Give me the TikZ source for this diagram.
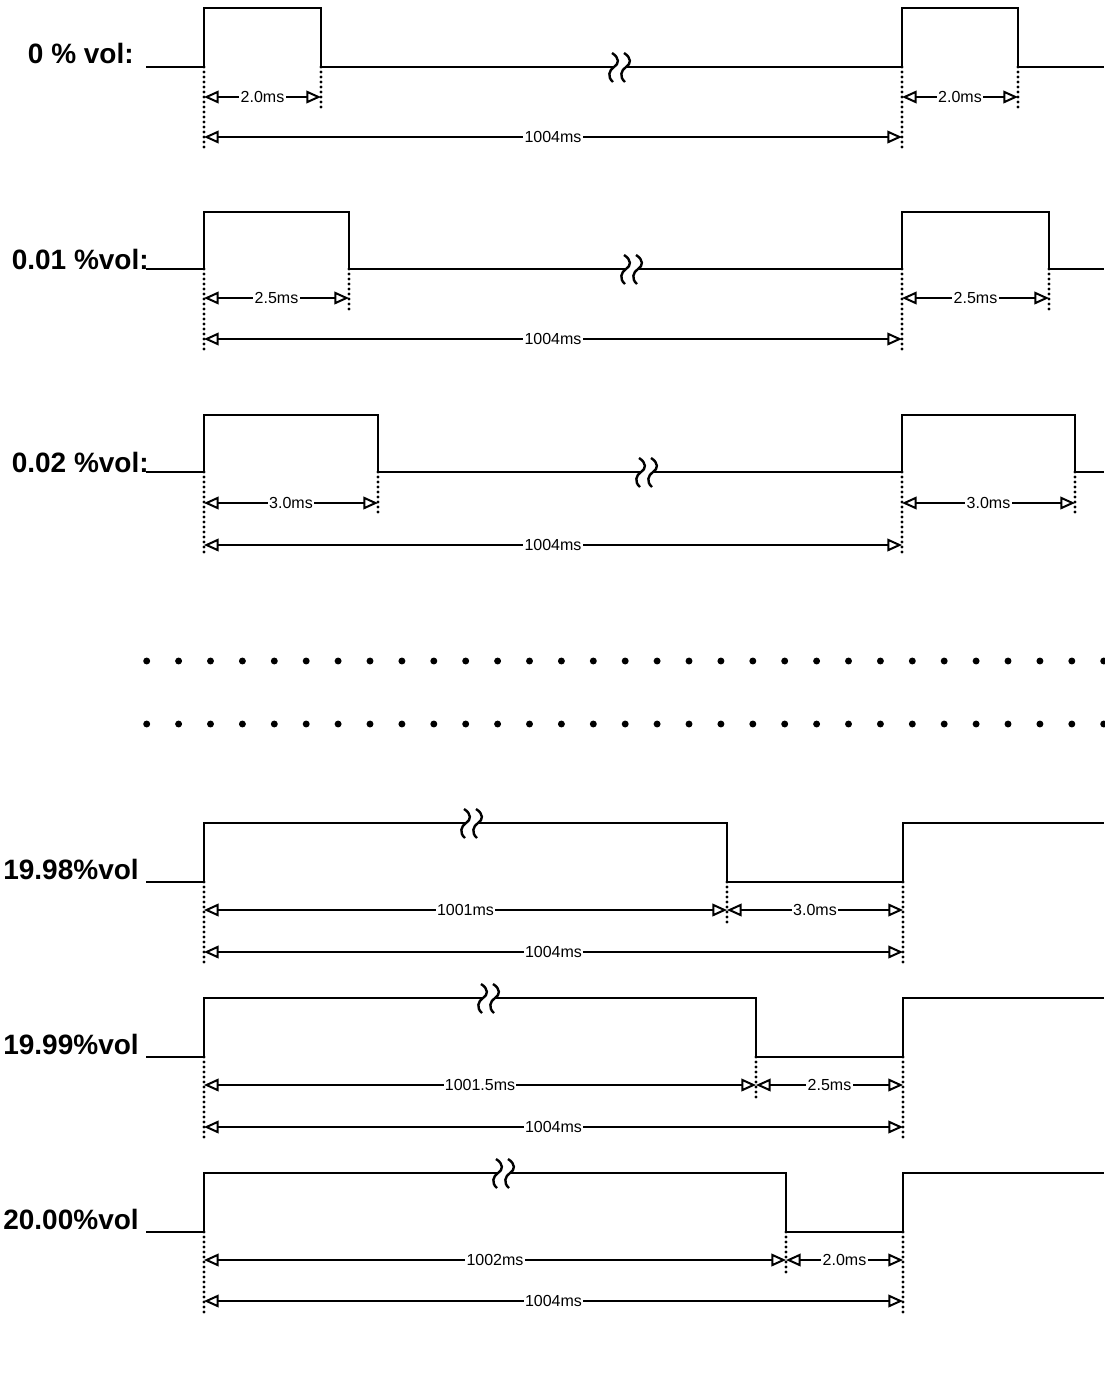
\documentclass[tikz,border=0pt]{standalone}
\usepackage{fontspec}
\setmainfont{Liberation Sans}
\usetikzlibrary{arrows.meta}
\tikzset{
  wave/.style={line width=2.2pt, line join=miter},
  dimline/.style={line width=1.5pt,{Triangle[open,length=11pt,width=9.5pt]}-{Triangle[open,length=11pt,width=9.5pt]}},
  guide/.style={line width=2.4pt, line cap=round, dash pattern=on 0pt off 3.75pt},
  lbl/.style={font=\bfseries\fontsize{21}{24}\selectfont, anchor=base east, inner sep=0pt},
  val/.style={font=\fontsize{12}{14}\selectfont, fill=white, inner sep=1pt},
  dotc/.style={circle, fill=black, inner sep=0pt, minimum size=5.2pt},
  brk/.pic={
    \fill[white] (-5,-3) rectangle (5,3);
    \draw[line width=1.8pt] (-8,-14) .. controls (0,-9) and (-1,-3) .. (-6,0) .. controls (-11,3) and (-13,10) .. (-7,15);
    \draw[line width=1.8pt] (4,-14) .. controls (12,-9) and (11,-3) .. (6,0) .. controls (1,3) and (-1,10) .. (5,15);
  }
}
\begin{document}
\begin{tikzpicture}[x=0.75pt,y=-0.75pt]
\useasboundingbox (0,0) rectangle (1104,1374);

% ---------- rows with short pulses ----------
\foreach \r/\yl/\yh/\ea/\eb/\bx/\ya/\yb/\t/\lab/\lx/\lb in {
  1/67/8/321/1018/620/97/137/2.0ms/{0 \% vol:}/134/63,
  2/269/212/349/1049/632/298/339/2.5ms/{0.01 \%vol:}/149/269,
  3/472/415/378/1075/647/503/545/3.0ms/{0.02 \%vol:}/149/472}{
  \node[lbl] (lab\r) at (\lx,\lb) {\lab};
  \coordinate (s\r) at (146,\yl);
  \coordinate (p\r) at (204,\yl);
  \coordinate (q\r) at (\ea,\yl);
  \coordinate (u\r) at (902,\yl);
  \coordinate (v\r) at (\eb,\yl);
  \coordinate (e\r) at (1104,\yl);
  \draw[wave] (s\r) -- (p\r) -- (204,\yh) -- (\ea,\yh) -- (q\r) -- (u\r) -- (902,\yh) -- (\eb,\yh) -- (v\r) -- (e\r);
  \pic at (\bx,\yl) {brk};
  % guides
  \coordinate (pg\r) at (204,\yb+12);
  \coordinate (qg\r) at (\ea,\ya+14);
  \coordinate (ug\r) at (902,\yb+12);
  \coordinate (vg\r) at (\eb,\ya+14);
  \draw[guide] (p\r) -- (pg\r);
  \draw[guide] (q\r) -- (qg\r);
  \draw[guide] (u\r) -- (ug\r);
  \draw[guide] (v\r) -- (vg\r);
  % dimension arrows
  \coordinate (pa\r) at (204,\ya);
  \coordinate (qa\r) at (\ea,\ya);
  \coordinate (ua\r) at (902,\ya);
  \coordinate (va\r) at (\eb,\ya);
  \coordinate (pb\r) at (204,\yb);
  \coordinate (ub\r) at (902,\yb);
  \draw[dimline] (pa\r) -- node[val] (w\r) {\t} (qa\r);
  \draw[dimline] (ua\r) -- node[val] (x\r) {\t} (va\r);
  \draw[dimline] (pb\r) -- node[val] (y\r) {1004ms} (ub\r);
}

% ---------- dotted rows ----------
\foreach \i in {0,...,30}{
  \node[dotc] (da\i) at (146.7+31.9*\i,661) {};
  \node[dotc] (db\i) at (146.7+31.9*\i,724) {};
}

% ---------- rows with long pulses ----------
\foreach \r/\yl/\yh/\fx/\bx/\ya/\yb/\ta/\tb/\lab/\lb in {
  4/882/823/727/472/910/952/1001ms/3.0ms/19.98\%vol/879,
  5/1057/998/756/489/1085/1127/1001.5ms/2.5ms/19.99\%vol/1054,
  6/1232/1173/786/504/1260/1301/1002ms/2.0ms/20.00\%vol/1229}{
  \node[lbl] (lab\r) at (139,\lb) {\lab};
  \coordinate (s\r) at (146,\yl);
  \coordinate (p\r) at (204,\yl);
  \coordinate (f\r) at (\fx,\yl);
  \coordinate (u\r) at (903,\yl);
  \coordinate (e\r) at (1104,\yh);
  \draw[wave] (s\r) -- (p\r) -- (204,\yh) -- (\fx,\yh) -- (f\r) -- (u\r) -- (903,\yh) -- (e\r);
  \pic at (\bx,\yh) {brk};
  % guides
  \coordinate (pg\r) at (204,\yb+14);
  \coordinate (fg\r) at (\fx,\ya+16);
  \coordinate (ug\r) at (903,\yb+12);
  \draw[guide] (p\r) -- (pg\r);
  \draw[guide] (f\r) -- (fg\r);
  \draw[guide] (u\r) -- (ug\r);
  % dimension arrows
  \coordinate (pa\r) at (204,\ya);
  \coordinate (fa\r) at (\fx,\ya);
  \coordinate (ua\r) at (903,\ya);
  \coordinate (pb\r) at (204,\yb);
  \coordinate (ub\r) at (903,\yb);
  \draw[dimline] (pa\r) -- node[val] (w\r) {\ta} (fa\r);
  \draw[dimline] (fa\r) -- node[val] (x\r) {\tb} (ua\r);
  \draw[dimline] (pb\r) -- node[val] (y\r) {1004ms} (ub\r);
}
\end{tikzpicture}
\end{document}
